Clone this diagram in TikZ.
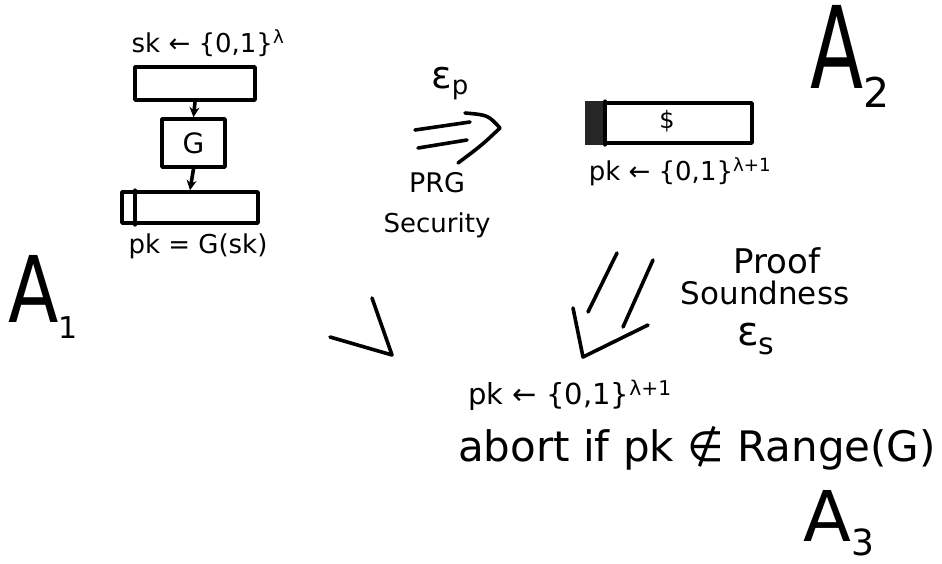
\documentclass[tikz,border=0pt]{standalone}
\usepackage{fontspec}
\setmainfont{DejaVu Sans}
\usetikzlibrary{arrows.meta}
\tikzset{
  ink/.style={line width=3.6pt, line cap=round, line join=round},
  bitbox/.style={draw, ink, rectangle, inner sep=0pt},
  lbl/.style={inner sep=0pt, anchor=center},
  bigA/.style={inner sep=0pt, anchor=base west},
  flow/.style={ink, -{Stealth[length=10pt,width=10pt]}}
}
\newcommand{\fs}[1]{\fontsize{#1}{#1}\selectfont}
\begin{document}
\begin{tikzpicture}[x=1pt,y=-1pt]
\useasboundingbox (0,0) rectangle (942,563);
% left column A1
\node[lbl] (skl) at (208,43) {\fs{26}sk ← \{0,1\}\textsuperscript{λ}};
\node[bitbox, minimum width=120pt, minimum height=33pt] (b1) at (195,83.5) {};
\node[bitbox, minimum width=63pt, minimum height=48pt] (g) at (193.5,143) {\fs{28}G};
\node[bitbox, minimum width=136pt, minimum height=31pt] (b3) at (190,207.5) {};
\draw[ink] ([xshift=15pt]b3.north west) -- ([xshift=15pt]b3.south west);
\node[lbl] (pkl) at (198,246) {\fs{26}pk = G(sk)};
\draw[flow] (b1.south) -- (g.north);
\draw[flow] (g.south) -- (b3.north);
\node[bigA] (a1) at (8,322) {\fs{92}\scalebox{0.8}[1]{A}\raisebox{-16pt}{\fs{30}1}};
% PRG arrow
\node[lbl] (ep) at (450,84) {\fs{38}ε\textsubscript{\fs{26}p}};
\coordinate (p1) at (415,130); \coordinate (p2) at (470,122);
\coordinate (p3) at (418,148); \coordinate (p4) at (467,140);
\coordinate (h1) at (465,113); \coordinate (h2) at (500,128); \coordinate (h3) at (458,163);
\draw[ink] (p1) -- (p2);
\draw[ink] (p3) -- (p4);
\draw[ink] (h1) .. controls (488,115) .. (h2) .. controls (482,145) .. (h3);
\node[lbl] (prg) at (437,183) {\fs{27}PRG};
\node[lbl] (sec) at (437,225) {\fs{26}Security};
% right box A2
\node[bitbox, minimum width=165pt, minimum height=40pt] (rb) at (669.5,123) {};
\fill[black!85] (rb.north west) rectangle ([xshift=20pt]rb.south west);
\draw[ink] ([xshift=20pt]rb.north west) -- ([xshift=20pt]rb.south west);
\node[lbl] (dol) at (667,121) {\fs{24}\$};
\node[lbl] (pkr) at (680,172) {\fs{26}pk ← \{0,1\}\textsuperscript{λ+1}};
\node[bigA] (a2) at (810,88) {\fs{114}\scalebox{0.68}[1]{A}\raisebox{-19pt}{\fs{41}2}};
% checkmark-like stroke
\coordinate (v1) at (330,337); \coordinate (v2) at (392,355); \coordinate (v3) at (372,298);
\draw[ink] (v1) -- (v2) -- (v3);
% soundness arrow
\coordinate (s1) at (617,253); \coordinate (s2) at (588,312);
\coordinate (s3) at (653,260); \coordinate (s4) at (623,327);
\coordinate (t1) at (573,308); \coordinate (t2) at (583,357); \coordinate (t3) at (648,325);
\draw[ink] (s1) -- (s2);
\draw[ink] (s3) -- (s4);
\draw[ink] (t1) -- (t2) -- (t3);
\node[lbl] (proof) at (777,261) {\fs{34}Proof};
\node[lbl] (sound) at (765,293) {\fs{31}Soundness};
\node[lbl] (es) at (756,339) {\fs{40}ε\textsubscript{\fs{30}s}};
% A3
\node[lbl] (pkb) at (570,395) {\fs{29}pk ← \{0,1\}\textsuperscript{λ+1}};
\node[lbl] (abort) at (697,448) {\fs{42}abort if pk ∉ Range(G)};
\node[bigA] (a3) at (803,541) {\fs{70}A\raisebox{-14pt}{\fs{36}3}};
\end{tikzpicture}
\end{document}
